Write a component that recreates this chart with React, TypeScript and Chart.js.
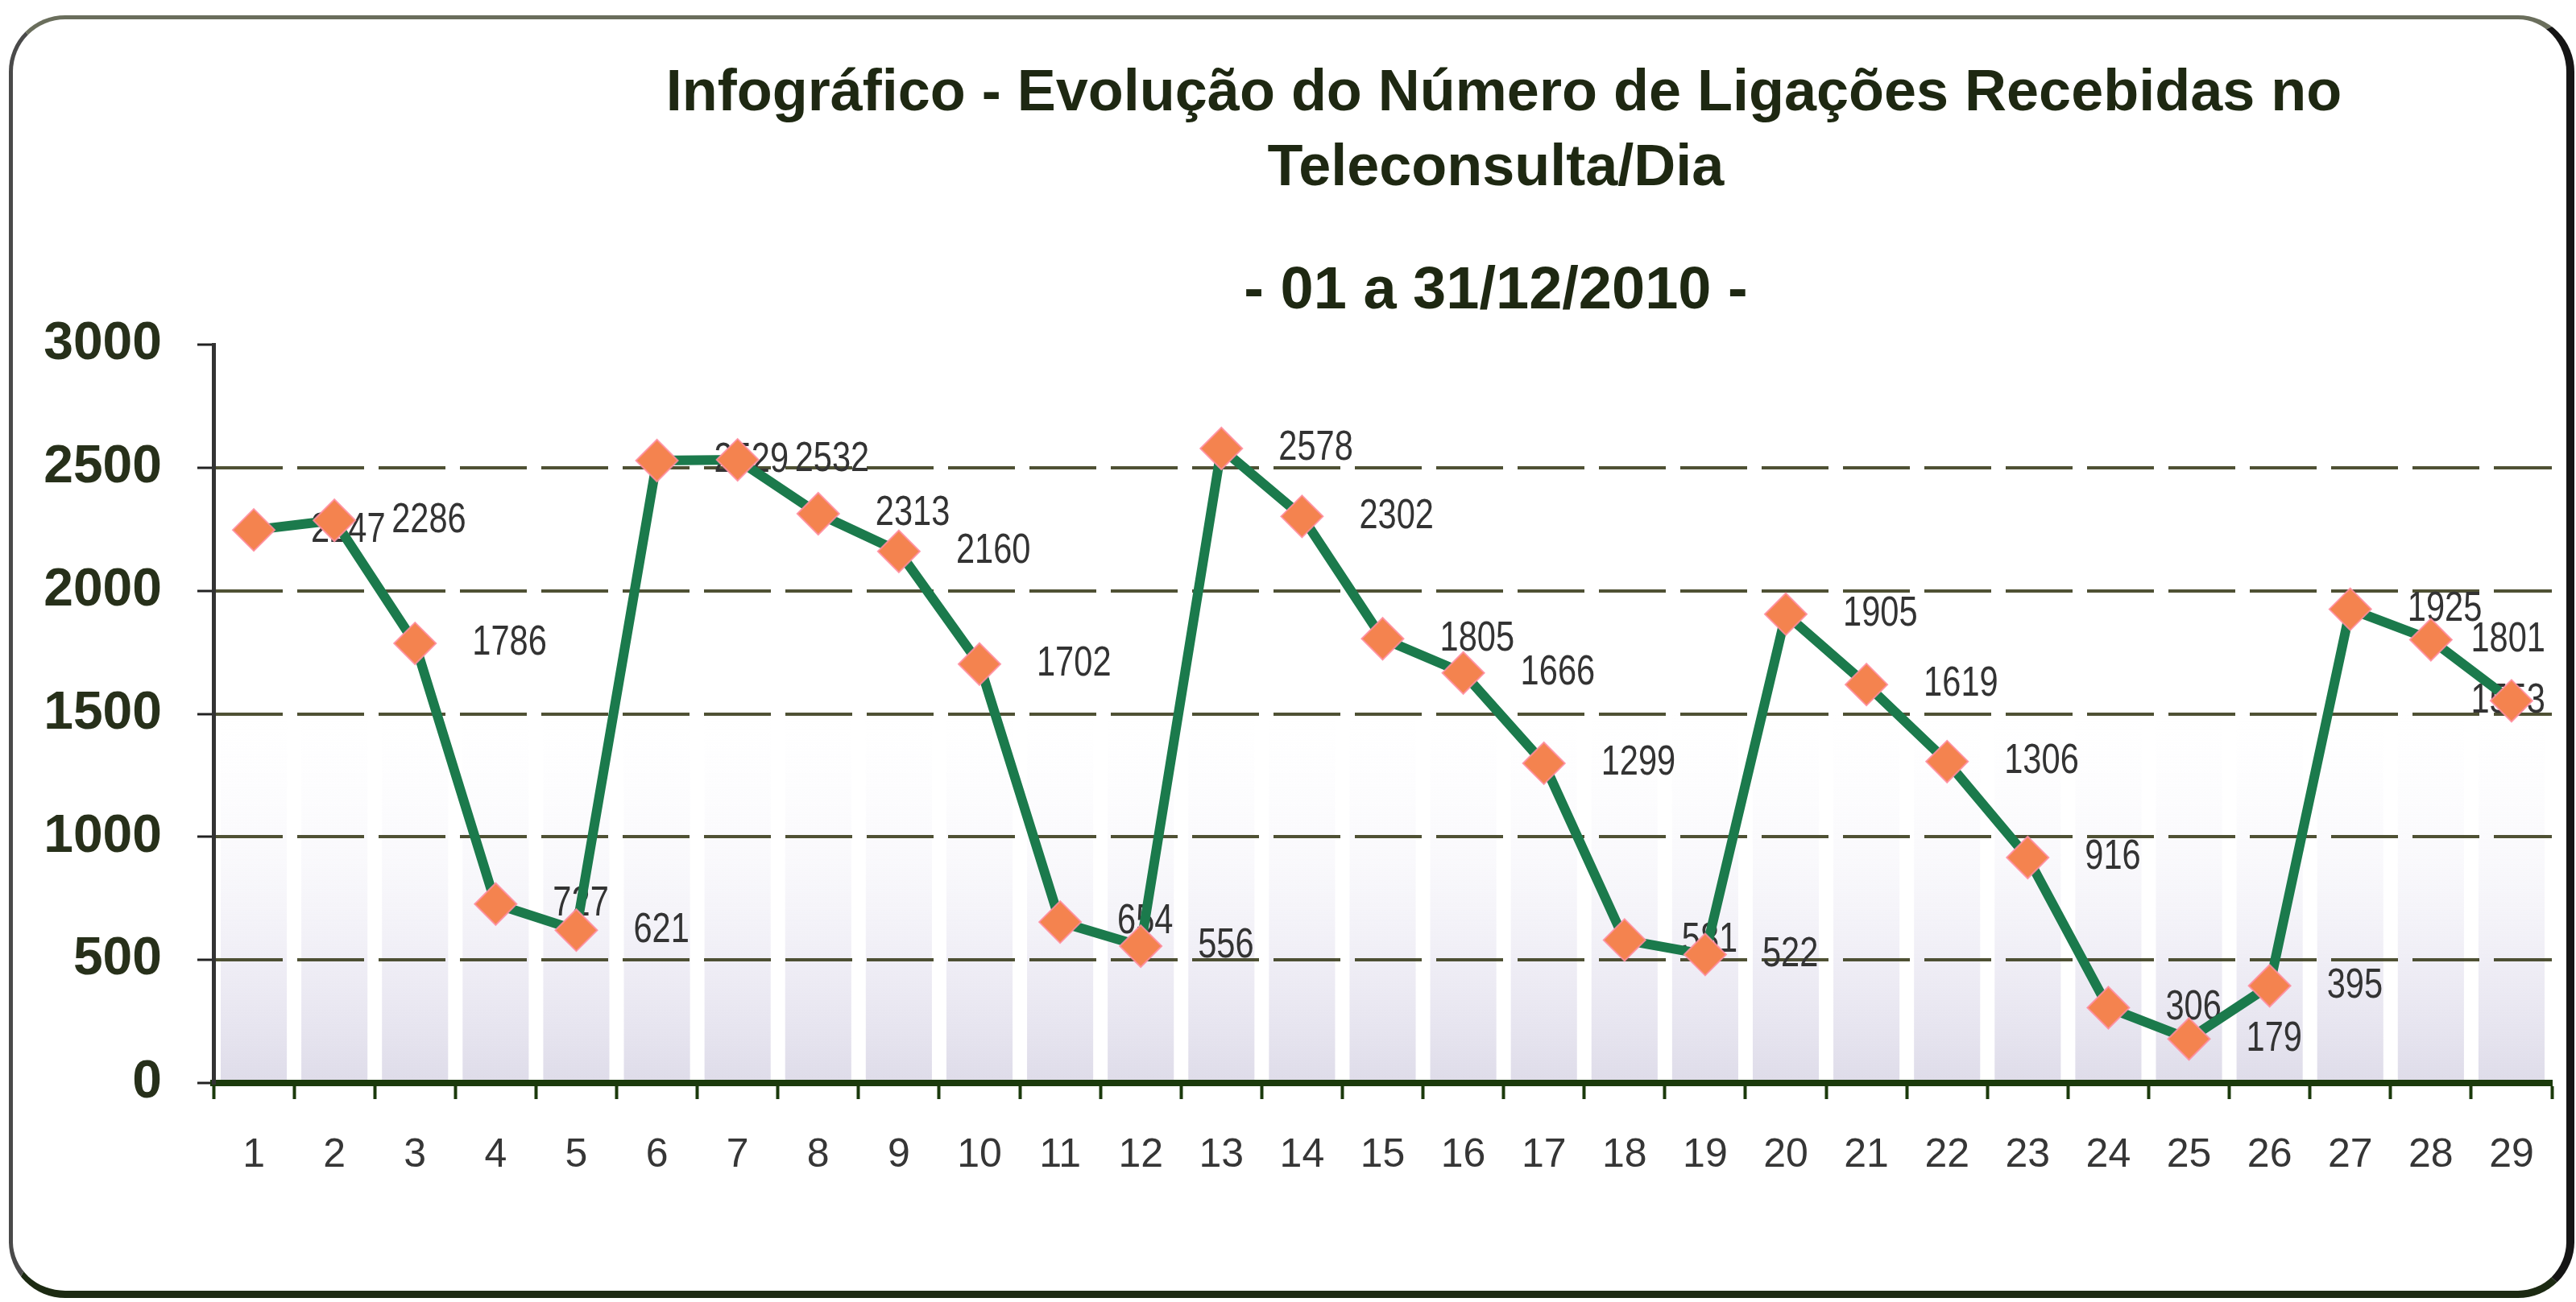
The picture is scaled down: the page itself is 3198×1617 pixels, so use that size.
import { useEffect, useRef } from 'react';
import { Chart, registerables } from 'chart.js';

Chart.register(...registerables);

const titleLines = [
  'Infográfico - Evolução do Número de Ligações Recebidas no',
  'Teleconsulta/Dia',
  '- 01 a 31/12/2010 -',
];

const days = ['1', '2', '3', '4', '5', '6', '7', '8', '9', '10', '11', '12', '13', '14', '15', '16', '17', '18', '19', '20', '21', '22', '23', '24', '25', '26', '27', '28', '29'];

const calls = [2247, 2286, 1786, 727, 621, 2529, 2532, 2313, 2160, 1702, 654, 556, 2578, 2302, 1805, 1666, 1299, 581, 522, 1905, 1619, 1306, 916, 306, 179, 395, 1925, 1801, 1553];

const yMin = 0;
const yMax = 3000;
const yStep = 500;

const W = 3198;
const H = 1617;

const SANS = "'Liberation Sans', Arial, sans-serif";

const columnsPlugin = {
  id: 'columns',
  beforeDraw(chart: any) {
    const { ctx, chartArea, scales } = chart;
    const x = scales.x;
    const y = scales.y;
    const n = chart.data.labels.length;
    const step = (chartArea.right - chartArea.left) / n;
    const y0 = y.getPixelForValue(0);
    const yTop = y.getPixelForValue(1500);
    const grad = ctx.createLinearGradient(0, y0, 0, yTop);
    grad.addColorStop(0, 'rgba(200,196,218,0.6)');
    grad.addColorStop(0.3, 'rgba(214,210,230,0.42)');
    grad.addColorStop(0.62, 'rgba(228,226,240,0.2)');
    grad.addColorStop(1, 'rgba(240,240,248,0)');
    ctx.save();
    ctx.fillStyle = grad;
    for (let i = 0; i < n; i++) {
      const cx = x.getPixelForValue(i);
      const w = step - 18;
      ctx.fillRect(cx - w / 2, yTop, w, y0 - yTop);
    }
    ctx.restore();
  },
};

const labelsPlugin = {
  id: 'valueLabels',
  beforeDatasetsDraw(chart: any) {
    const { ctx, chartArea } = chart;
    const meta = chart.getDatasetMeta(0);
    const values = chart.data.datasets[0].data;
    const sx = 0.8;
    ctx.save();
    ctx.font = `52px ${SANS}`;
    ctx.fillStyle = '#333333';
    ctx.textAlign = 'left';
    ctx.textBaseline = 'middle';
    meta.data.forEach((pt: any, i: number) => {
      const txt = String(values[i]);
      const tw = ctx.measureText(txt).width * sx;
      const lx = Math.min(pt.x + 71, chartArea.right - 8 - tw);
      ctx.save();
      ctx.translate(lx, pt.y);
      ctx.scale(sx, 1);
      ctx.fillText(txt, 0, 0);
      ctx.restore();
    });
    ctx.restore();
  },
};

const titlePlugin = {
  id: 'bigTitle',
  afterDraw(chart: any) {
    const { ctx } = chart;
    ctx.save();
    ctx.fillStyle = '#1e2812';
    ctx.textAlign = 'center';
    ctx.textBaseline = 'alphabetic';
    ctx.font = `bold 72px ${SANS}`;
    ctx.fillText(titleLines[0], 1867, 137);
    ctx.fillText(titleLines[1], 1857, 230);
    ctx.font = `bold 74px ${SANS}`;
    ctx.fillText(titleLines[2], 1857, 383);
    ctx.restore();
  },
};

export default function App() {
  const ref = useRef<HTMLCanvasElement | null>(null);

  useEffect(() => {
    if (!ref.current) return;
    const chart = new Chart(ref.current, {
      type: 'line',
      data: {
        labels: days,
        datasets: [
          {
            data: calls,
            borderColor: '#1b7a4c',
            borderWidth: 12,
            tension: 0,
            pointStyle: 'rectRot',
            pointRadius: 26,
            pointBackgroundColor: '#f4834f',
            pointBorderColor: 'rgba(255,140,160,0.85)',
            pointBorderWidth: 2,
            fill: false,
          },
        ],
      },
      options: {
        responsive: false,
        animation: false,
        devicePixelRatio: 1,
        layout: { padding: { left: 0, right: 30, top: 428, bottom: 122 } },
        plugins: {
          legend: { display: false },
          title: { display: false },
          tooltip: { enabled: false },
        },
        scales: {
          x: {
            offset: true,
            grid: {
              offset: true,
              drawOnChartArea: false,
              drawTicks: true,
              tickLength: 20,
              tickWidth: 4,
              tickColor: '#1b3a0c',
              color: '#1b3a0c',
            },
            border: { display: true, color: '#1b3a0c', width: 8 },
            ticks: {
              color: '#363636',
              font: { family: SANS, size: 50 },
              padding: 40,
              maxRotation: 0,
              autoSkip: false,
            },
            afterFit: (s: any) => {
              s.height = 150;
            },
          },
          y: {
            min: yMin,
            max: yMax,
            ticks: {
              stepSize: yStep,
              color: '#27301a',
              font: { family: SANS, size: 66, weight: 'bold' },
              padding: 44,
              callback: (v: any) => String(v),
            },
            grid: {
              color: (c: any) =>
                c.tick && (c.tick.value === yMin || c.tick.value === yMax)
                  ? 'rgba(0,0,0,0)'
                  : 'rgba(60,62,30,0.9)',
              lineWidth: 4,
              tickLength: 20,
              tickColor: '#222',
              tickWidth: 3,
              tickBorderDash: [],
            },
            border: { display: true, color: '#333', width: 5, dash: [83, 18] },
            afterFit: (s: any) => {
              s.width = 265;
            },
          },
        },
      },
      plugins: [columnsPlugin, labelsPlugin, titlePlugin],
    } as any);
    return () => chart.destroy();
  }, []);

  return (
    <div style={{ position: 'fixed', left: 0, top: 0, width: W, height: H, background: '#fff', overflow: 'hidden' }}>
      <canvas ref={ref} width={W} height={H} style={{ display: 'block', width: W, height: H }} />
      <div
        style={{
          position: 'absolute',
          left: 11,
          top: 19,
          right: 2,
          bottom: 5,
          boxSizing: 'border-box',
          borderStyle: 'solid',
          borderWidth: '5px 10px 9px 5px',
          borderColor: '#6a6e5c #151515 #1c2a12 #4a4a4a',
          borderRadius: 70,
          pointerEvents: 'none',
        }}
      />
    </div>
  );
}
